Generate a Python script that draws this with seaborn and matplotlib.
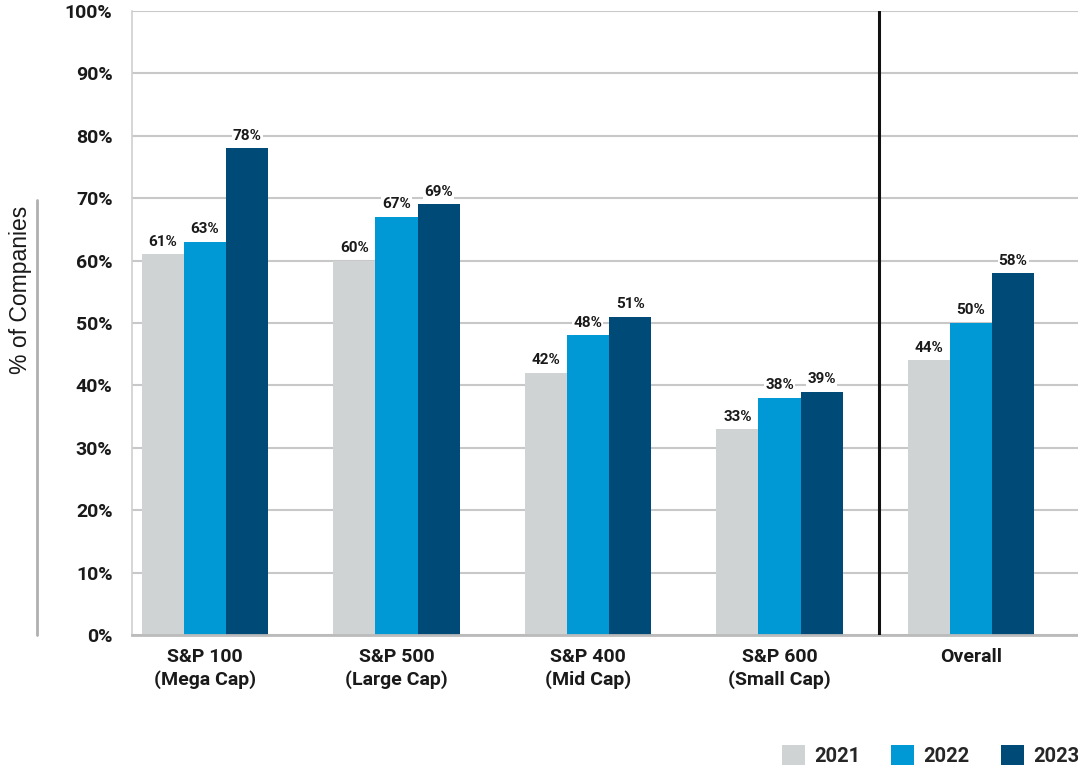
import matplotlib
matplotlib.use("Agg")
import matplotlib.pyplot as plt
from matplotlib.lines import Line2D
import seaborn as sns
import pandas as pd

categories = ["S&P 100\n(Mega Cap)", "S&P 500\n(Large Cap)", "S&P 400\n(Mid Cap)",
              "S&P 600\n(Small Cap)", "Overall"]
years = ["2021", "2022", "2023"]
values_2021 = [61, 60, 42, 33, 44]
values_2022 = [63, 67, 48, 38, 50]
values_2023 = [78, 69, 51, 39, 58]
colors = ["#D0D3D4", "#0099D5", "#004A77"]
y_ticks = [0, 10, 20, 30, 40, 50, 60, 70, 80, 90, 100]

rows = []
for yr, vals in zip(years, [values_2021, values_2022, values_2023]):
    for c, v in zip(categories, vals):
        rows.append({"category": c, "year": yr, "value": v})
df = pd.DataFrame(rows)

sns.set_theme(style="white")
plt.rcParams['font.family'] = ['Roboto', 'DejaVu Sans']

fig = plt.figure(figsize=(10.78, 7.66), dpi=100)
ax = fig.add_axes([132 / 1078, 1 - 635 / 766, (1078 - 132) / 1078, 624 / 766])

sns.barplot(data=df, x="category", y="value", hue="year", palette=colors,
            width=0.66, saturation=1, ax=ax, order=categories, hue_order=years,
            linewidth=0, edgecolor="none")

ax.set_ylim(0, 100)
ax.set_xlim(-0.381, 4.559)
ax.set_yticks(y_ticks)
ax.set_yticklabels([f"{t}%" for t in y_ticks], fontsize=14, fontweight="bold", color="#1a1a1a")
ax.tick_params(axis="y", length=0, pad=14)
ax.tick_params(axis="x", length=0, pad=9)
for lbl in ax.get_xticklabels():
    lbl.set_fontsize(14)
    lbl.set_fontweight("bold")
    lbl.set_color("#1a1a1a")
    lbl.set_linespacing(1.3)

ax.yaxis.grid(True, color="#C8C8C8", linewidth=1.5)
ax.set_axisbelow(True)
for s in ["top", "right"]:
    ax.spines[s].set_visible(False)
ax.spines["left"].set_color("#D0D0D0")
ax.spines["left"].set_linewidth(1.2)
ax.spines["bottom"].set_color("#BBBBBB")
ax.spines["bottom"].set_linewidth(2)
ax.set_xlabel("")
ax.set_ylabel("")

# divider between indices and Overall
ax.axvline(3.52, color="#111111", linewidth=2.2, zorder=5)

for cont in ax.containers:
    ax.bar_label(cont, fmt="%.0f%%", padding=4, fontsize=11, fontweight="bold",
                 color="#1a1a1a",
                 bbox=dict(facecolor="white", edgecolor="none", pad=0.8))

# y axis label with its accent line
fig.text(0.019, 0.622, "% of Companies", rotation=90, ha="center", va="center",
         fontsize=16.5, family=["Liberation Sans", "DejaVu Sans"], color="#1a1a1a")
fig.add_artist(Line2D([37 / 1078, 37 / 1078], [1 - 200 / 766, 1 - 635 / 766],
                      color="#B0B0B0", linewidth=2))

handles, labels = ax.get_legend_handles_labels()
if ax.get_legend() is not None:
    ax.get_legend().remove()
leg = fig.legend(handles, labels, loc="center right", bbox_to_anchor=(1.018, 0.014),
                 ncol=3, frameon=False, handlelength=1.15, handleheight=1.15,
                 handletextpad=0.45, columnspacing=1.55,
                 prop={"size": 14.5, "weight": "bold", "family": ["Roboto", "DejaVu Sans"]})

fig.savefig("out.png", dpi=100)
